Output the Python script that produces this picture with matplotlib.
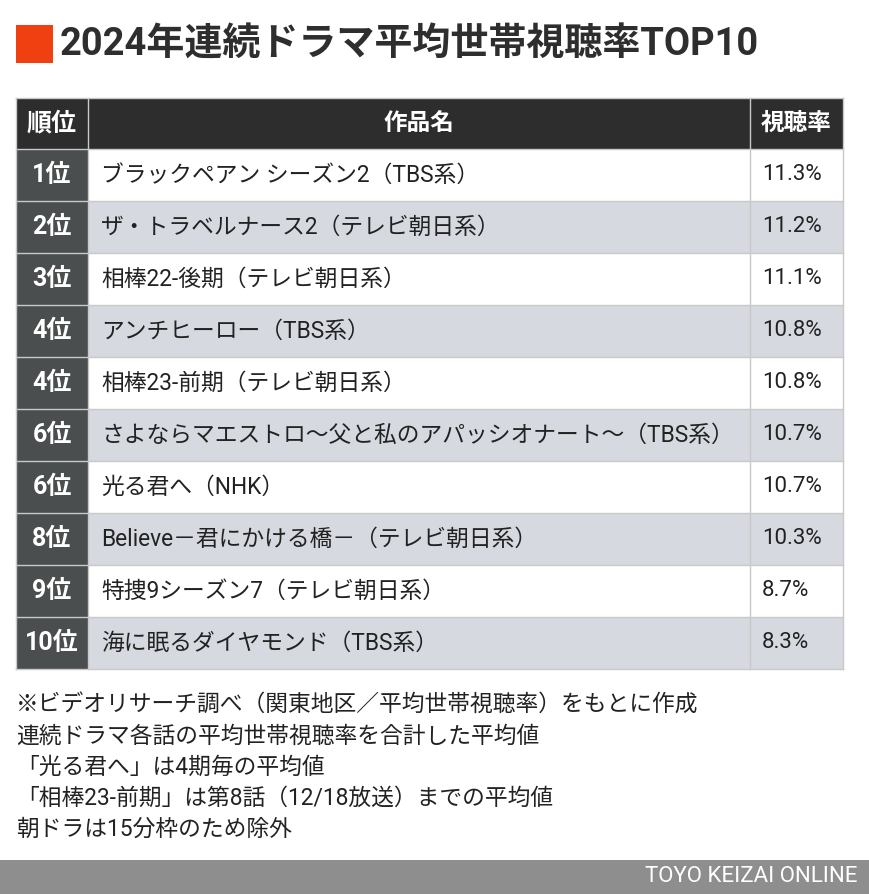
import matplotlib
matplotlib.use("Agg")
import matplotlib.pyplot as plt
from matplotlib.patches import Rectangle

plt.rcParams['font.family'] = ['Roboto', 'Noto Sans CJK JP', 'DejaVu Sans']

title = "2024年連続ドラマ平均世帯視聴率TOP10"
headers = ["順位", "作品名", "視聴率"]
ranks = ["1位", "2位", "3位", "4位", "4位", "6位", "6位", "8位", "9位", "10位"]
titles = [
    "ブラックペアン シーズン2（TBS系）",
    "ザ・トラベルナース2（テレビ朝日系）",
    "相棒22-後期（テレビ朝日系）",
    "アンチヒーロー（TBS系）",
    "相棒23-前期（テレビ朝日系）",
    "さよならマエストロ～父と私のアパッシオナート～（TBS系）",
    "光る君へ（NHK）",
    "Believe－君にかける橋－（テレビ朝日系）",
    "特捜9シーズン7（テレビ朝日系）",
    "海に眠るダイヤモンド（TBS系）",
]
ratings = [11.3, 11.2, 11.1, 10.8, 10.8, 10.7, 10.7, 10.3, 8.7, 8.3]
notes = [
    "※ビデオリサーチ調べ（関東地区／平均世帯視聴率）をもとに作成",
    "連続ドラマ各話の平均世帯視聴率を合計した平均値",
    "「光る君へ」は4期毎の平均値",
    "「相棒23-前期」は第8話（12/18放送）までの平均値",
    "朝ドラは15分枠のため除外",
]
source = "TOYO KEIZAI ONLINE"

W, H = 870, 894
fig = plt.figure(figsize=(W / 100, H / 100), dpi=100)
ax = fig.add_axes([0, 0, 1, 1])
ax.set_xlim(0, W)
ax.set_ylim(H, 0)
ax.axis('off')

# title
ax.add_patch(Rectangle((16, 25), 37, 38, color='#f04012', lw=0))
ax.text(60, 45, title, fontsize=27.4, fontweight='bold', color='#2e2e2e',
        va='center', ha='left')

# table geometry
x0, x1, x2, x3 = 16, 88, 750, 843
top, head_h, row_h = 98, 51, 52
grid = '#c9c9c9'

# header
ax.add_patch(Rectangle((x0, top), x3 - x0, head_h, color='#2d2d2d', lw=0))
hy = top + head_h / 2
ax.text((x0 + x1) / 2, hy, headers[0], color='white', fontsize=18, fontweight='bold', ha='center', va='center')
ax.text((x1 + x2) / 2, hy, headers[1], color='white', fontsize=17, fontweight='bold', ha='center', va='center')
ax.text((x2 + x3) / 2, hy, headers[2], color='white', fontsize=17, fontweight='bold', ha='center', va='center')

for i, (rk, tt, rv) in enumerate(zip(ranks, titles, ratings)):
    y = top + head_h + i * row_h
    bg = 'white' if i % 2 == 0 else '#d6d9df'
    ax.add_patch(Rectangle((x1, y), x3 - x1, row_h, color=bg, lw=0))
    ax.add_patch(Rectangle((x0, y), x1 - x0, row_h, color='#4b4e4e', lw=0))
    cy = y + row_h / 2
    ax.text((x0 + x1) / 2, cy, rk, color='white', fontsize=18, fontweight='bold', ha='center', va='center')
    ax.text(101, cy, tt, color='#222222', fontsize=16.4, ha='left', va='center')
    ax.text(762, cy, f"{rv:.1f}%", color='#222222', fontsize=16, ha='left', va='center')

bottom = top + head_h + len(ranks) * row_h
# grid lines
for i in range(len(ranks) + 1):
    y = top + head_h + i * row_h
    ax.plot([x0, x3], [y, y], color=grid, lw=1)
ax.plot([x0, x3], [top, top], color=grid, lw=1)
for x in (x0, x1, x2, x3):
    ax.plot([x, x], [top, bottom], color=grid, lw=1)

# notes
for j, n in enumerate(notes):
    ax.text(16, 705 + j * 31, n, color='#222222', fontsize=16.4, ha='left', va='center')

# footer bar
ax.add_patch(Rectangle((0, 860), W, H - 860, color='#8e8e8e', lw=0))
ax.text(858, 877, source, color='white', fontsize=16, ha='right', va='center')

fig.savefig('out.png', dpi=100)
